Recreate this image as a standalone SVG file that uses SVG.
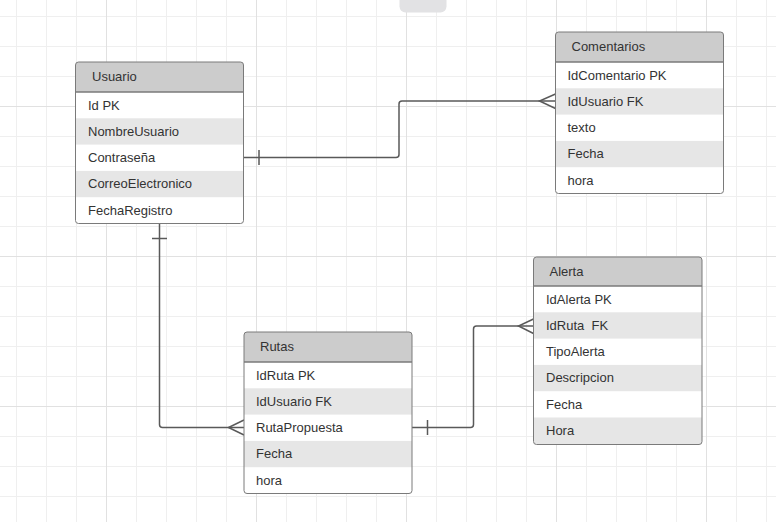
<svg xmlns="http://www.w3.org/2000/svg" width="776" height="522" viewBox="0 0 776 522">
<style>
.tf{font-family:"Liberation Sans",Arial,sans-serif;font-size:13px;fill:#333333;white-space:pre}
.hdr{fill:#cccccc}
.stripe{fill:#e6e6e6}
.body{fill:#ffffff}
.outline{fill:none;stroke:#7a7a7a;stroke-width:1}
.sep{stroke:#7a7a7a;stroke-width:1.5}
.conn{fill:none;stroke:#595959;stroke-width:1.5}
</style>
<defs>
<pattern id="gMinor" patternUnits="userSpaceOnUse" x="16" y="16" width="30" height="30">
<path d="M0.5,0 V30 M0,0.5 H30" stroke="#efefef" stroke-width="1" fill="none"/>
</pattern>
<pattern id="gMajor" patternUnits="userSpaceOnUse" x="106" y="106" width="150" height="150">
<path d="M0.5,0 V150 M0,0.5 H150" stroke="#e1e1e1" stroke-width="1" fill="none"/>
</pattern>
<clipPath id="cU"><rect x="75.5" y="62" width="168" height="161.5" rx="3"/></clipPath>
<clipPath id="cC"><rect x="555.5" y="32" width="168" height="161.5" rx="3"/></clipPath>
<clipPath id="cR"><rect x="244" y="332" width="168" height="161.5" rx="3"/></clipPath>
<clipPath id="cA"><rect x="533.5" y="257" width="168.5" height="187.5" rx="3"/></clipPath>
</defs>
<rect width="776" height="522" fill="#ffffff"/>
<rect width="776" height="522" fill="url(#gMinor)"/>
<rect width="776" height="522" fill="url(#gMajor)"/>
<rect x="399.5" y="-10" width="47" height="22.5" rx="6" fill="#e2e2e4"/>

<g id="connectors">
<path class="conn" d="M243.5,157.5 H396 Q399,157.5 399,154.5 V104 Q399,101 402,101 H555.5"/>
<path class="conn" d="M555.5,94 L539.5,101 L555.5,108.5"/>
<path class="conn" d="M259,150 V165"/>
<path class="conn" d="M159.5,223.5 V424.5 Q159.5,427.5 162.5,427.5 H244"/>
<path class="conn" d="M244,420 L228.5,427.5 L244,435"/>
<path class="conn" d="M152,238.5 H167"/>
<path class="conn" d="M412,427.5 H470.5 Q473.5,427.5 473.5,424.5 V329 Q473.5,326 476.5,326 H533.5"/>
<path class="conn" d="M533.5,319 L518.5,326 L533.5,333.5"/>
<path class="conn" d="M427.5,420 V435"/>
</g>

<g id="usuario">
<g clip-path="url(#cU)">
<rect class="body" x="75.5" y="62" width="168" height="161.5"/>
<rect class="hdr" x="75.5" y="62" width="168" height="30"/>
<rect class="stripe" x="75.5" y="118.3" width="168" height="26.3"/>
<rect class="stripe" x="75.5" y="170.9" width="168" height="26.3"/>
</g>
<line class="sep" x1="75.5" y1="92" x2="243.5" y2="92"/>
<rect class="outline" x="75.5" y="62" width="168" height="161.5" rx="3"/>
<text class="tf" x="92" y="81">Usuario</text>
<text class="tf" x="88" y="109.5">Id PK</text>
<text class="tf" x="88" y="135.8">NombreUsuario</text>
<text class="tf" x="88" y="162.1">Contraseña</text>
<text class="tf" x="88" y="188.4">CorreoElectronico</text>
<text class="tf" x="88" y="214.7">FechaRegistro</text>
</g>

<g id="comentarios">
<g clip-path="url(#cC)">
<rect class="body" x="555.5" y="32" width="168" height="161.5"/>
<rect class="hdr" x="555.5" y="32" width="168" height="30"/>
<rect class="stripe" x="555.5" y="88.3" width="168" height="26.3"/>
<rect class="stripe" x="555.5" y="140.9" width="168" height="26.3"/>
</g>
<line class="sep" x1="555.5" y1="62" x2="723.5" y2="62"/>
<rect class="outline" x="555.5" y="32" width="168" height="161.5" rx="3"/>
<text class="tf" x="571.5" y="51">Comentarios</text>
<text class="tf" x="567.5" y="79.5">IdComentario PK</text>
<text class="tf" x="567.5" y="105.8">IdUsuario FK</text>
<text class="tf" x="567.5" y="132.1">texto</text>
<text class="tf" x="567.5" y="158.4">Fecha</text>
<text class="tf" x="567.5" y="184.7">hora</text>
</g>

<g id="rutas">
<g clip-path="url(#cR)">
<rect class="body" x="244" y="332" width="168" height="161.5"/>
<rect class="hdr" x="244" y="332" width="168" height="30"/>
<rect class="stripe" x="244" y="388.3" width="168" height="26.3"/>
<rect class="stripe" x="244" y="440.9" width="168" height="26.3"/>
</g>
<line class="sep" x1="244" y1="362" x2="412" y2="362"/>
<rect class="outline" x="244" y="332" width="168" height="161.5" rx="3"/>
<text class="tf" x="260" y="351">Rutas</text>
<text class="tf" x="256" y="379.5">IdRuta PK</text>
<text class="tf" x="256" y="405.8">IdUsuario FK</text>
<text class="tf" x="256" y="432.1">RutaPropuesta</text>
<text class="tf" x="256" y="458.4">Fecha</text>
<text class="tf" x="256" y="484.7">hora</text>
</g>

<g id="alerta">
<g clip-path="url(#cA)">
<rect class="body" x="533.5" y="257" width="168.5" height="187.5"/>
<rect class="hdr" x="533.5" y="257" width="168.5" height="29"/>
<rect class="stripe" x="533.5" y="312.3" width="168.5" height="26.3"/>
<rect class="stripe" x="533.5" y="364.9" width="168.5" height="26.3"/>
<rect class="stripe" x="533.5" y="417.5" width="168.5" height="27"/>
</g>
<line class="sep" x1="533.5" y1="286" x2="702" y2="286"/>
<rect class="outline" x="533.5" y="257" width="168.5" height="187.5" rx="3"/>
<text class="tf" x="549.5" y="276">Alerta</text>
<text class="tf" x="546" y="303.5">IdAlerta PK</text>
<text class="tf" x="546" y="329.8">IdRuta  FK</text>
<text class="tf" x="546" y="356.1">TipoAlerta</text>
<text class="tf" x="546" y="382.4">Descripcion</text>
<text class="tf" x="546" y="408.7">Fecha</text>
<text class="tf" x="546" y="435">Hora</text>
</g>
</svg>
